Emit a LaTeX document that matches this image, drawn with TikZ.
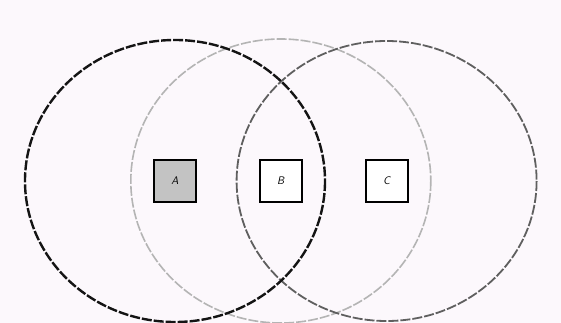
\documentclass[tikz,border=0pt]{standalone}
\usepackage{fontspec}
\definecolor{bgpink}{RGB}{252,248,252}
\definecolor{ringdark}{RGB}{20,20,20}
\definecolor{ringlight}{RGB}{180,180,180}
\definecolor{ringmid}{RGB}{95,95,95}
\definecolor{boxgray}{RGB}{195,195,195}
\usetikzlibrary{positioning}

\begin{document}
\begin{tikzpicture}[x=1pt,y=-1pt,
  station/.style={draw=black,line width=1.8pt,minimum size=42pt,inner sep=0pt,
    font=\fontsize{11}{13}\selectfont\sffamily\itshape},
  range/.style={dash pattern=on 10pt off 2pt,line width=#1},
  range/.default=1.5pt]
\fill[bgpink] (0,0) rectangle (561,323);
\useasboundingbox (0,0) rectangle (561,323);
% stations
\node[station,fill=boxgray] (nA) at (175,181) {A};
\node[station,fill=white,right=62pt of nA] (nB) {B};
\node[station,fill=white,right=62pt of nB] (nC) {C};
% transmission ranges
\draw[range=1.6pt,ringlight] (nB.center) ellipse [x radius=150, y radius=142];
\draw[range=1.8pt,ringmid] (nC.center) ellipse [x radius=150, y radius=140];
\draw[range=2.4pt,ringdark] (nA.center) ellipse [x radius=150, y radius=141];
\end{tikzpicture}
\end{document}
